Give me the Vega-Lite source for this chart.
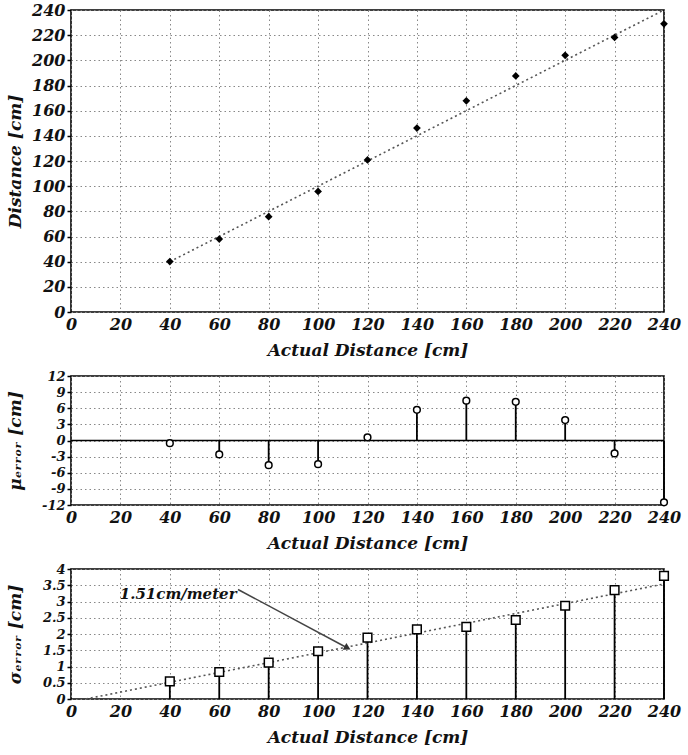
{
  "$schema": "https://vega.github.io/schema/vega-lite/v6.json",
  "background": "white",
  "padding": {"left": 5, "top": 1, "right": 5, "bottom": 2},
  "spacing": 10,
  "datasets": {
    "measured": [
      {"actual": 40, "distance": 40.1},
      {"actual": 60, "distance": 58.0},
      {"actual": 80, "distance": 75.7},
      {"actual": 100, "distance": 95.8},
      {"actual": 120, "distance": 120.8},
      {"actual": 140, "distance": 146.2},
      {"actual": 160, "distance": 167.8},
      {"actual": 180, "distance": 187.6},
      {"actual": 200, "distance": 204.0},
      {"actual": 220, "distance": 218.2},
      {"actual": 240, "distance": 229.0}
    ],
    "ideal": [
      {"actual": 40, "distance": 40},
      {"actual": 240, "distance": 240}
    ],
    "mu": [
      {"actual": 40, "mu": -0.5},
      {"actual": 60, "mu": -2.6},
      {"actual": 80, "mu": -4.6},
      {"actual": 100, "mu": -4.4},
      {"actual": 120, "mu": 0.6},
      {"actual": 140, "mu": 5.7},
      {"actual": 160, "mu": 7.4},
      {"actual": 180, "mu": 7.2},
      {"actual": 200, "mu": 3.8},
      {"actual": 220, "mu": -2.4},
      {"actual": 240, "mu": -11.5}
    ],
    "sigma": [
      {"actual": 40, "sigma": 0.54},
      {"actual": 60, "sigma": 0.83},
      {"actual": 80, "sigma": 1.12},
      {"actual": 100, "sigma": 1.47},
      {"actual": 120, "sigma": 1.89},
      {"actual": 140, "sigma": 2.14},
      {"actual": 160, "sigma": 2.22},
      {"actual": 180, "sigma": 2.43},
      {"actual": 200, "sigma": 2.87},
      {"actual": 220, "sigma": 3.35},
      {"actual": 240, "sigma": 3.79}
    ],
    "sigmafit": [
      {"actual": 6, "sigma": 0},
      {"actual": 240, "sigma": 3.54}
    ],
    "arrow": [
      {"x": 67.6, "y": 3.37, "x2": 111.9, "y2": 1.57}
    ],
    "note": [
      {"x": 67, "y": 3.24, "label": "1.51cm/meter"}
    ]
  },
  "vconcat": [
    {
      "width": 593,
      "height": 302,
      "layer": [
        {
          "data": {"name": "ideal"},
          "mark": {"type": "line", "strokeDash": [2, 3], "color": "#555", "strokeWidth": 1.6},
          "encoding": {
            "x": {"field": "actual", "type": "quantitative", "scale": {"domain": [0, 240], "nice": false}, "axis": {"values": [0,20,40,60,80,100,120,140,160,180,200,220,240], "tickCount": 40, "title": "Actual Distance [cm]"}},
            "y": {"field": "distance", "type": "quantitative", "scale": {"domain": [0, 240], "nice": false}, "axis": {"values": [0,20,40,60,80,100,120,140,160,180,200,220,240], "tickCount": 40, "title": "Distance [cm]"}}
          }
        },
        {
          "data": {"name": "measured"},
          "mark": {"type": "point", "shape": "diamond", "filled": true, "color": "black", "size": 60, "opacity": 1},
          "encoding": {
            "x": {"field": "actual", "type": "quantitative"},
            "y": {"field": "distance", "type": "quantitative"}
          }
        }
      ]
    },
    {
      "width": 593,
      "height": 129,
      "layer": [
        {
          "data": {"values": [{"zero": 0}]},
          "mark": {"type": "rule", "color": "black", "strokeWidth": 1.6},
          "encoding": {
            "y": {"field": "zero", "type": "quantitative", "scale": {"domain": [-12, 12], "nice": false}, "axis": {"values": [-12,-9,-6,-3,0,3,6,9,12], "tickCount": 40, "labelFontSize": 13, "labelExpr": "toString(datum.value)", "title": "μₑᵣᵣₒᵣ [cm]"}}
          }
        },
        {
          "data": {"name": "mu"},
          "mark": {"type": "rule", "color": "black", "strokeWidth": 1.8},
          "encoding": {
            "x": {"field": "actual", "type": "quantitative", "scale": {"domain": [0, 240], "nice": false}, "axis": {"values": [0,20,40,60,80,100,120,140,160,180,200,220,240], "tickCount": 40, "title": "Actual Distance [cm]"}},
            "y": {"field": "mu", "type": "quantitative"},
            "y2": {"datum": 0}
          }
        },
        {
          "data": {"name": "mu"},
          "mark": {"type": "point", "shape": "circle", "filled": true, "fill": "white", "stroke": "black", "strokeWidth": 1.5, "size": 45, "opacity": 1},
          "encoding": {
            "x": {"field": "actual", "type": "quantitative"},
            "y": {"field": "mu", "type": "quantitative"}
          }
        }
      ]
    },
    {
      "width": 593,
      "height": 130,
      "layer": [
        {
          "data": {"name": "sigma"},
          "mark": {"type": "rule", "color": "black", "strokeWidth": 1.8},
          "encoding": {
            "x": {"field": "actual", "type": "quantitative", "scale": {"domain": [0, 240], "nice": false}, "axis": {"values": [0,20,40,60,80,100,120,140,160,180,200,220,240], "tickCount": 40, "title": "Actual Distance [cm]"}},
            "y": {"field": "sigma", "type": "quantitative", "scale": {"domain": [0, 4], "nice": false}, "axis": {"values": [0,0.5,1,1.5,2,2.5,3,3.5,4], "tickCount": 40, "labelFontSize": 13, "labelExpr": "toString(datum.value)", "title": "σₑᵣᵣₒᵣ [cm]"}},
            "y2": {"datum": 0}
          }
        },
        {
          "data": {"name": "sigmafit"},
          "mark": {"type": "line", "strokeDash": [2, 3], "color": "#555", "strokeWidth": 1.6},
          "encoding": {
            "x": {"field": "actual", "type": "quantitative"},
            "y": {"field": "sigma", "type": "quantitative"}
          }
        },
        {
          "data": {"name": "sigma"},
          "mark": {"type": "point", "shape": "square", "filled": true, "fill": "white", "stroke": "black", "strokeWidth": 1.5, "size": 75, "opacity": 1},
          "encoding": {
            "x": {"field": "actual", "type": "quantitative"},
            "y": {"field": "sigma", "type": "quantitative"}
          }
        },
        {
          "data": {"name": "arrow"},
          "mark": {"type": "rule", "color": "#444", "strokeWidth": 1.5},
          "encoding": {
            "x": {"field": "x", "type": "quantitative"},
            "y": {"field": "y", "type": "quantitative"},
            "x2": {"field": "x2"},
            "y2": {"field": "y2"}
          }
        },
        {
          "data": {"name": "arrow"},
          "mark": {"type": "point", "shape": "triangle-right", "filled": true, "color": "#333", "size": 60, "angle": 28, "opacity": 1},
          "encoding": {
            "x": {"field": "x2", "type": "quantitative"},
            "y": {"field": "y2", "type": "quantitative"}
          }
        },
        {
          "data": {"name": "note"},
          "mark": {"type": "text", "align": "right", "baseline": "middle", "font": "DejaVu Serif", "fontStyle": "italic", "fontWeight": "bold", "fontSize": 15, "color": "#111"},
          "encoding": {
            "x": {"field": "x", "type": "quantitative"},
            "y": {"field": "y", "type": "quantitative"},
            "text": {"field": "label"}
          }
        }
      ]
    }
  ],
  "config": {
    "view": {"stroke": "black", "strokeWidth": 1.6},
    "axis": {
      "labelFont": "DejaVu Serif",
      "labelFontStyle": "italic",
      "labelFontWeight": "bold",
      "labelFontSize": 16,
      "labelColor": "#111",
      "labelFlush": false,
      "labelOverlap": false,
      "titleFont": "DejaVu Serif",
      "titleFontStyle": "italic",
      "titleFontWeight": "bold",
      "titleFontSize": 17,
      "titleColor": "#111",
      "domain": false,
      "grid": true,
      "gridColor": "#888",
      "gridDash": [1.5, 3],
      "gridWidth": 1,
      "tickColor": "black"
    },
    "axisX": {"ticks": false, "labelPadding": 4, "titlePadding": 10},
    "axisY": {"tickSize": 4, "tickWidth": 1.5, "labelPadding": 2, "titleX": -51, "titleBaseline": "alphabetic"}
  }
}
